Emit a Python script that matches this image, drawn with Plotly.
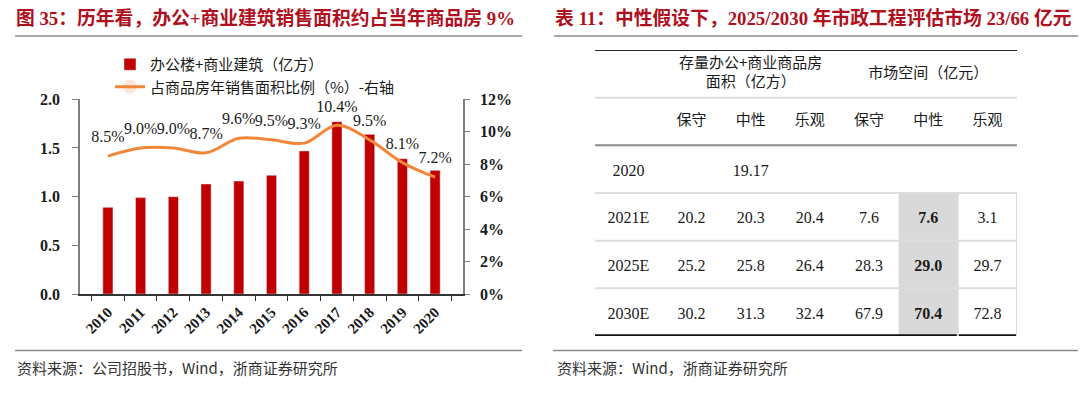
import plotly.graph_objects as go

# ---------------- data ----------------
years = ["2010", "2011", "2012", "2013", "2014", "2015", "2016", "2017", "2018", "2019", "2020"]
area = [0.89, 0.99, 1.00, 1.13, 1.16, 1.22, 1.47, 1.77, 1.64, 1.39, 1.27]
share = [8.5, 9.0, 9.0, 8.7, 9.6, 9.5, 9.3, 10.4, 9.5, 8.1, 7.2]
bar_name = "办公楼+商业建筑（亿方）"
line_name = "占商品房年销售面积比例（%）-右轴"

table_rows = ["2020", "2021E", "2025E", "2030E"]
area_cons = [None, 20.2, 25.2, 30.2]
area_neut = [19.17, 20.3, 25.8, 31.3]
area_opt = [None, 20.4, 26.4, 32.4]
mkt_cons = [None, 7.6, 28.3, 67.9]
mkt_neut = [None, 7.6, 29.0, 70.4]
mkt_opt = [None, 3.1, 29.7, 72.8]
scenario_labels = ["保守", "中性", "乐观", "保守", "中性", "乐观"]
group_headers = ["存量办公+商业商品房<br>面积（亿方）", "市场空间（亿元）"]

title_left = "图 35：历年看，办公+商业建筑销售面积约占当年商品房 9%"
title_right = "表 11：中性假设下，2025/2030 年市政工程评估市场 23/66 亿元"
source_left = "资料来源：公司招股书，Wind，浙商证券研究所"
source_right = "资料来源：Wind，浙商证券研究所"

# ---------------- styles ----------------
W, H = 1080, 400
SERIF = "Liberation Serif, Noto Sans CJK SC"
CJK = "Noto Sans CJK SC, Liberation Serif"
RED_T = "#B0101E"
BAR_C = "#C00000"
LINE_C = "#F0873A"
AX_C = "#808080"

def px(x):
    return x / W

def py(y):
    return 1 - y / H

fig = go.Figure()

# ---------------- left chart ----------------
fig.add_trace(go.Bar(
    x=years, y=area, name=bar_name, marker_color=BAR_C, width=0.31,
    xaxis="x", yaxis="y",
))
fig.add_trace(go.Scatter(
    x=years, y=share, name=line_name, mode="lines+markers+text",
    line=dict(color=LINE_C, width=3, shape="spline", smoothing=1.0),
    marker=dict(size=14, opacity=0, color=LINE_C),
    text=[f"{v:.1f}%" for v in share], textposition="top center",
    textfont=dict(family=SERIF, size=16, color="#1a1a1a"),
    cliponaxis=False, xaxis="x", yaxis="y2",
))

# ---------------- table ----------------
first_w = 1.13
def col_center(j):
    return first_w / 2 if j == 0 else first_w + (j - 1) + 0.5

def col_left(j):
    return 0 if j == 0 else first_w + (j - 1)

def fmt(v):
    if v is None:
        return ""
    return f"{v:.2f}" if round(v, 1) != v else f"{v:.1f}"

cols = [area_cons, area_neut, area_opt, mkt_cons, mkt_neut, mkt_opt]
tx, ty, tt = [], [], []
for i, lab in enumerate(table_rows):
    tx.append(col_center(0)); ty.append(2.55 + i); tt.append(lab)
    for j, series in enumerate(cols):
        s = fmt(series[i])
        if s == "":
            continue
        if j == 4:
            s = f"<b>{s}</b>"
        tx.append(col_center(j + 1)); ty.append(2.55 + i); tt.append(s)
fig.add_trace(go.Scatter(
    x=tx, y=ty, text=tt, mode="text", showlegend=False,
    textfont=dict(family=SERIF, size=16, color="#1a1a1a"),
    xaxis="x3", yaxis="y3", hoverinfo="skip",
))
# header texts
hx = [col_center(j + 1) for j in range(6)] + [(col_left(1) + col_left(4)) / 2, (col_left(4) + first_w + 6) / 2]
hy = [1.5] * 6 + [0.5, 0.5]
ht = scenario_labels + group_headers
fig.add_trace(go.Scatter(
    x=hx, y=hy, text=ht, mode="text", showlegend=False,
    textfont=dict(family=CJK, size=15, color="#1a1a1a"),
    xaxis="x3", yaxis="y3", hoverinfo="skip",
))

shapes = []
total_w = first_w + 6
# highlight column
shapes.append(dict(type="rect", xref="x3", yref="y3", x0=col_left(5), x1=col_left(6), y0=3, y1=6,
                   fillcolor="#D9D9D9", line_width=0, layer="below"))
hlines = [(0, "#262626", 2), (1, "#DDDDDD", 2), (2, "#8C8C8C", 2), (3, "#DDDDDD", 2),
          (4, "#DDDDDD", 2), (5, "#DDDDDD", 2), (6, "#111111", 3.5)]
for yv, c, w in hlines:
    shapes.append(dict(type="line", xref="x3", yref="y3", x0=0, x1=total_w, y0=yv, y1=yv,
                       line=dict(color=c, width=w)))
for xv in [col_left(6), total_w]:
    shapes.append(dict(type="line", xref="x3", yref="y3", x0=xv, x1=xv, y0=3, y1=6,
                       line=dict(color="#DDDDDD", width=2)))

# title / footer rules
shapes.append(dict(type="line", xref="paper", yref="paper", x0=px(15), x1=px(522), y0=py(36), y1=py(36),
                   line=dict(color="#8C8C8C", width=1.5)))
shapes.append(dict(type="line", xref="paper", yref="paper", x0=px(554), x1=px(1078), y0=py(36), y1=py(36),
                   line=dict(color="#8C8C8C", width=1.5)))
shapes.append(dict(type="line", xref="paper", yref="paper", x0=px(15), x1=px(522), y0=py(350.5), y1=py(350.5),
                   line=dict(color="#8C8C8C", width=1.5)))
shapes.append(dict(type="line", xref="paper", yref="paper", x0=px(553), x1=px(1078), y0=py(350.5), y1=py(350.5),
                   line=dict(color="#8C8C8C", width=1.5)))

annotations = [
    dict(text=f"<b>{title_left}</b>", xref="paper", yref="paper", x=px(14), y=py(18),
         xanchor="left", yanchor="middle", showarrow=False,
         font=dict(family=SERIF, size=18.8, color=RED_T)),
    dict(text=f"<b>{title_right}</b>", xref="paper", yref="paper", x=px(553), y=py(18),
         xanchor="left", yanchor="middle", showarrow=False,
         font=dict(family=SERIF, size=18.8, color=RED_T)),
    dict(text=source_left, xref="paper", yref="paper", x=px(15), y=py(367),
         xanchor="left", yanchor="middle", showarrow=False,
         font=dict(family=CJK, size=15, color="#333333")),
    dict(text=source_right, xref="paper", yref="paper", x=px(555), y=py(367),
         xanchor="left", yanchor="middle", showarrow=False,
         font=dict(family=CJK, size=15, color="#333333")),
]

fig.update_layout(
    width=W, height=H, margin=dict(l=0, r=0, t=0, b=0, pad=0, autoexpand=False),
    paper_bgcolor="white", plot_bgcolor="rgba(0,0,0,0)",
    showlegend=True,
    legend=dict(x=px(110), y=py(48), xanchor="left", yanchor="top",
                font=dict(family=CJK, size=15, color="#1a1a1a"),
                bgcolor="rgba(0,0,0,0)", tracegroupgap=0, itemwidth=30),
    xaxis=dict(domain=[px(80), px(463)], type="category", tickangle=-45, automargin=False,
               showline=True, linecolor="#333333", linewidth=1.5,
               ticks="outside", tickson="boundaries", ticklen=5, tickcolor="#333333",
               ticklabelstandoff=2,
               tickfont=dict(family=SERIF, size=15, color="#1a1a1a", weight="bold"),
               showgrid=False, zeroline=False, anchor="y"),
    yaxis=dict(domain=[py(294), py(99.3)], range=[0, 2], dtick=0.5, tickformat=".1f",
               automargin=False, ticklabelstandoff=9,
               showline=True, linecolor=AX_C, linewidth=1.5, ticks="outside", ticklen=6,
               tickcolor=AX_C, showgrid=False, zeroline=False,
               tickfont=dict(family=SERIF, size=16, color="#1a1a1a", weight="bold"), anchor="x"),
    yaxis2=dict(overlaying="y", side="right", range=[0, 12], dtick=2, ticksuffix="%",
                automargin=False, ticklabelstandoff=7,
                showline=True, linecolor=AX_C, linewidth=1.5, ticks="outside", ticklen=5,
                tickcolor=AX_C, showgrid=False, zeroline=False, anchor="x",
                tickfont=dict(family=SERIF, size=16, color="#1a1a1a", weight="bold")),
    xaxis3=dict(domain=[px(595), px(1017)], range=[0, first_w + 6], visible=False,
                automargin=False, fixedrange=True, anchor="y3"),
    yaxis3=dict(domain=[py(336), py(50)], range=[6, 0], visible=False,
                automargin=False, fixedrange=True, anchor="x3"),
    shapes=shapes, annotations=annotations,
)

fig.write_html(
    "out.html",
    config={"displayModeBar": False},
    post_script="document.body.style.margin='0px';document.body.style.padding='0px';"
                "document.documentElement.style.overflow='hidden';",
)
